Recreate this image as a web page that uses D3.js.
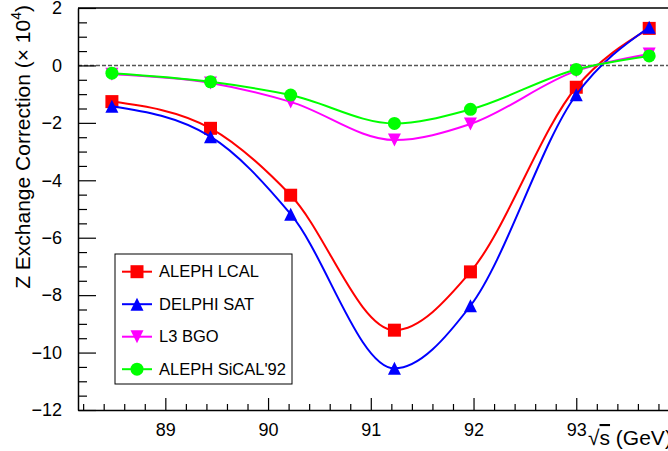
<!DOCTYPE html>
<html>
<head>
<meta charset="utf-8">
<script src="https://cdn.jsdelivr.net/npm/d3@7"></script>
<style>
  body { margin: 0; background: white; }
  text { font-family: "Liberation Sans", Arial, sans-serif; }
</style>
</head>
<body>
<div id="container"></div>
<script>
let w = 668;
let h = 451;

// centre of mass energies (GeV)
let energies = [88.48, 89.44, 90.22, 91.23, 91.97, 93.00, 93.71];
let alephLcal = [-1.26, -2.19, -4.52, -9.22, -7.19, -0.76, 1.29];
let delphiSat = [-1.42, -2.48, -5.18, -10.55, -8.37, -1.02, 1.33];
let l3Bgo = [-0.31, -0.61, -1.27, -2.60, -2.04, -0.19, 0.40];
let alephSical = [-0.27, -0.57, -1.03, -2.02, -1.53, -0.14, 0.33];

let seriesNames = ["ALEPH LCAL", "DELPHI SAT", "L3 BGO", "ALEPH SiCAL'92"];
let xTicks = [89, 90, 91, 92, 93];
let yTicks = [-12, -10, -8, -6, -4, -2, 0, 2];

let viz = d3.select("#container")
  .append("svg")
    .attr("width", w)
    .attr("height", h)
;

let xScale = d3.scaleLinear().domain([88.15, 94.0]).range([78, 679]);
let yScale = d3.scaleLinear().domain([-12, 2]).range([410, 8]);

// marker shapes, ROOT style
let markers = {
  square: "M-6.5,-6.5H6.5V6.5H-6.5Z",
  triUp: "M-6.5,6.5L6.5,6.5L0,-6.5Z",
  triDown: "M-6.5,-6.5L6.5,-6.5L0,6.5Z",
  circle: d3.symbol().type(d3.symbolCircle).size(Math.PI*6.5*6.5)()
};

let series = [
  {name: seriesNames[0], values: alephLcal, color: "#ff0000", marker: markers.square},
  {name: seriesNames[1], values: delphiSat, color: "#0000ff", marker: markers.triUp},
  {name: seriesNames[2], values: l3Bgo, color: "#ff00ff", marker: markers.triDown},
  {name: seriesNames[3], values: alephSical, color: "#00ff00", marker: markers.circle}
];

// zero line
viz.append("line")
  .attr("x1", xScale.range()[0])
  .attr("x2", w)
  .attr("y1", yScale(0))
  .attr("y2", yScale(0))
  .attr("stroke", "#555")
  .attr("stroke-width", 1.5)
  .attr("stroke-dasharray", "4,2")
;

// frame top line
viz.append("line")
  .attr("x1", xScale.range()[0])
  .attr("x2", w)
  .attr("y1", yScale(2))
  .attr("y2", yScale(2))
  .attr("stroke", "black")
  .attr("stroke-width", 1.5)
;

// x axis
let minorX = d3.range(88.2, 94.0, 0.2).filter(v => Math.abs(v - Math.round(v)) > 0.01);
viz.append("g")
  .attr("transform", "translate(0," + yScale(-12) + ")")
  .call(d3.axisBottom(xScale).tickValues(minorX).tickSize(-6).tickFormat(""))
  .call(g => g.select(".domain").remove())
;
let xAxisG = viz.append("g")
  .attr("transform", "translate(0," + yScale(-12) + ")")
  .call(d3.axisBottom(xScale).tickValues(xTicks).tickSize(-12).tickSizeOuter(0).tickPadding(13).tickFormat(d3.format("d")))
;

// y axis
let minorY = d3.range(-12, 2.01, 0.5).filter(v => v % 2 != 0);
viz.append("g")
  .attr("transform", "translate(" + xScale.range()[0] + ",0)")
  .call(d3.axisLeft(yScale).tickValues(minorY).tickSize(-9).tickFormat(""))
  .call(g => g.select(".domain").remove())
;
let yAxisG = viz.append("g")
  .attr("transform", "translate(" + xScale.range()[0] + ",0)")
  .call(d3.axisLeft(yScale).tickValues(yTicks).tickSize(-18).tickSizeOuter(0).tickPadding(16).tickFormat(d3.format("d")))
;

viz.selectAll(".domain").attr("stroke-width", 1.5);
viz.selectAll(".tick line").attr("stroke-width", 1.2);
viz.selectAll(".tick text")
  .style("font-family", "'Liberation Sans', Arial, sans-serif")
  .style("font-size", "18px")
;

// axis titles
let yTitle = viz.append("text")
  .attr("transform", "translate(30,5) rotate(-90)")
  .attr("text-anchor", "end")
  .style("font-size", "21px")
;
yTitle.append("tspan").text("Z Exchange Correction (× 10");
yTitle.append("tspan").attr("dy", -9).style("font-size", "14px").text("4");
yTitle.append("tspan").attr("dy", 9).text(")");

let xTitle = viz.append("text")
  .attr("x", 588)
  .attr("y", 445)
  .style("font-size", "21px")
;
xTitle.append("tspan").text("√");
xTitle.append("tspan").style("text-decoration", "overline").text("s");
xTitle.append("tspan").text(" (GeV)");

// curves and markers
let line = d3.line()
  .x((d,i) => xScale(energies[i]))
  .y(d => yScale(d))
  .curve(d3.curveMonotoneX)
;

let groups = viz.selectAll(".datagroup").data(series).enter()
  .append("g")
    .attr("class", "datagroup")
;
groups.append("path")
  .attr("d", d => line(d.values))
  .attr("fill", "none")
  .attr("stroke", d => d.color)
  .attr("stroke-width", 2)
;
groups.each(function(s){
  d3.select(this).selectAll(".marker").data(s.values).enter()
    .append("path")
      .attr("class", "marker")
      .attr("d", s.marker)
      .attr("fill", s.color)
      .attr("transform", (d,i) => "translate(" + xScale(energies[i]) + "," + yScale(d) + ")")
  ;
});

// legend
let legend = viz.append("g").attr("transform", "translate(115,254)");
legend.append("rect")
  .attr("width", 177)
  .attr("height", 130)
  .attr("fill", "white")
  .attr("stroke", "black")
  .attr("stroke-width", 1)
;
let rows = legend.selectAll(".row").data(series).enter()
  .append("g")
    .attr("class", "row")
    .attr("transform", (d,i) => "translate(0," + (17.7 + i*32.5) + ")")
;
rows.append("line")
  .attr("x1", 7).attr("x2", 37)
  .attr("stroke", d => d.color)
  .attr("stroke-width", 2)
;
rows.append("path")
  .attr("d", d => d.marker)
  .attr("fill", d => d.color)
  .attr("transform", "translate(22,0)")
;
rows.append("text")
  .attr("x", 44)
  .attr("dy", "0.35em")
  .style("font-size", "16.5px")
  .text(d => d.name)
;
</script>
</body>
</html>
